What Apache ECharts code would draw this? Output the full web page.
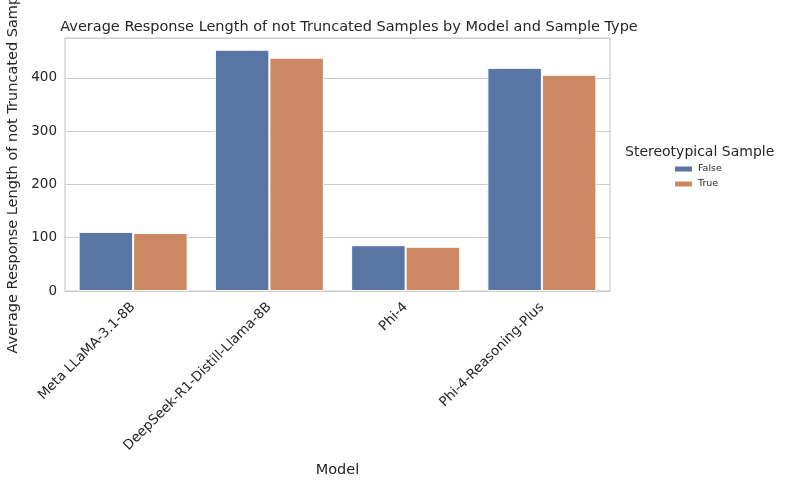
<!DOCTYPE html>
<html>
<head>
<meta charset="UTF-8">
<script src="https://cdn.jsdelivr.net/npm/echarts@6/dist/echarts.min.js"></script>
<style>body{margin:0}#main{width:800px;height:500px}</style>
</head>
<body>
<div id="main"></div>
<script>
// values
const models = ['Meta LLaMA-3.1-8B', 'DeepSeek-R1-Distill-Llama-8B', 'Phi-4', 'Phi-4-Reasoning-Plus'];
const falseVals = [111, 453, 86, 419];
const trueVals = [109, 438, 83, 406];
const yTicks = [0, 100, 200, 300, 400];

const font = 'DejaVu Sans';
const chart = echarts.init(document.getElementById('main'));
chart.setOption({
  textStyle: { fontFamily: font },
  title: [
    { text: 'Average Response Length of not Truncated Samples by Model and Sample Type',
      left: 344, top: 15, textAlign: 'center',
      textStyle: { fontSize: 14.5, fontWeight: 'normal', color: '#262626', fontFamily: font } },
    { text: 'Stereotypical Sample', left: 620, top: 140,
      textStyle: { fontSize: 14, fontWeight: 'normal', color: '#262626', fontFamily: font } }
  ],
  legend: {
    orient: 'vertical', left: 668, top: 159, itemGap: 5,
    itemWidth: 19, itemHeight: 7, icon: 'rect',
    textStyle: { fontSize: 9.5, color: '#262626' },
    data: ['False', 'True']
  },
  grid: { left: 65, right: 190, top: 38, bottom: 209, outerBoundsMode: 'none', containLabel: false,
    show: true, borderColor: '#cccccc', borderWidth: 1.2 },
  xAxis: {
    type: 'category', data: models,
    name: 'Model', nameLocation: 'middle', nameGap: 172,
    nameTextStyle: { fontSize: 14.5, color: '#262626' },
    axisLine: { show: false }, axisTick: { show: false },
    axisLabel: { rotate: 45, fontSize: 13.5, color: '#262626', margin: 14, interval: 0 }
  },
  yAxis: {
    type: 'value', min: 0, max: 475, interval: 100,
    name: 'Average Response Length of not Truncated Samples', nameLocation: 'middle', nameGap: 40,
    nameTextStyle: { fontSize: 14.5, color: '#262626' },
    axisLine: { show: false }, axisTick: { show: false },
    axisLabel: { fontSize: 13.5, color: '#262626', showMaxLabel: false,
      formatter: v => yTicks.includes(v) ? String(v) : '' },
    splitLine: { lineStyle: { color: '#cccccc', width: 1.2 } }
  },
  series: [
    { name: 'False', type: 'bar', data: falseVals, barGap: '0%', barCategoryGap: '20%',
      itemStyle: { color: '#5975a4', borderColor: '#fff', borderWidth: 1 } },
    { name: 'True', type: 'bar', data: trueVals,
      itemStyle: { color: '#cc8963', borderColor: '#fff', borderWidth: 1 } }
  ]
});
</script>
</body>
</html>
